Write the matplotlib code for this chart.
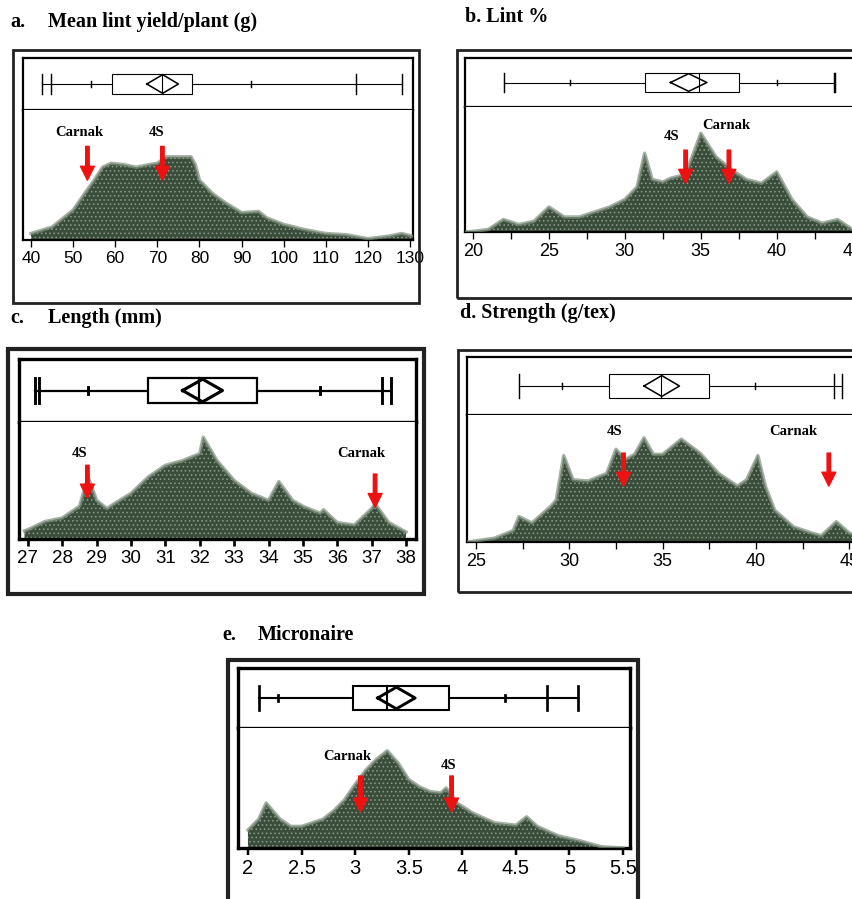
import matplotlib.pyplot as plt
import matplotlib.patches as mpatches
from matplotlib.ticker import MultipleLocator

W, H = 853, 899

plt.rcParams['hatch.linewidth'] = 0.6

# ---- data ----
# a. Mean lint yield/plant (g)
a_x = [40, 45, 50, 53, 55, 57, 59, 62, 65, 68, 70, 72, 75, 78, 79, 80, 83, 86, 90,
       94, 96, 100, 105, 110, 115, 120, 125, 128, 130.5]
a_y = [0.05, 0.10, 0.23, 0.37, 0.46, 0.56, 0.59, 0.58, 0.56, 0.58, 0.59, 0.64, 0.64,
       0.64, 0.58, 0.46, 0.36, 0.29, 0.21, 0.22, 0.17, 0.12, 0.08, 0.05, 0.04, 0.01,
       0.03, 0.05, 0.03]
a_box = [59.2, 71.2, 78.2]          # q1, median, q3
a_whisk = [42.6, 128.1]
a_mean, a_ci = 71.25, 3.75
a_marks = [44.8, 54.3, 92.2, 117.2]
a_mark_size = ['mid', 'small', 'small', 'mid']
a_arrows = {'Carnak': 53.4, '4S': 71.2}

# b. Lint %
b_x = [19.6, 20, 21, 22, 23, 24, 25, 26, 27, 28, 29, 30, 30.8, 31.3, 31.8, 32.5, 33, 34,
       35, 36, 37, 38, 39, 40, 41, 42, 43, 44, 45, 46]
b_y = [0.0, 0.005, 0.02, 0.10, 0.06, 0.085, 0.20, 0.12, 0.12, 0.16, 0.20, 0.26, 0.36,
       0.63, 0.42, 0.40, 0.43, 0.46, 0.79, 0.60, 0.50, 0.42, 0.39, 0.48, 0.26, 0.12,
       0.07, 0.10, 0.02, 0.0]
b_box = [31.3, 34.87, 37.5]
b_whisk = [22.05, 43.85]
b_mean, b_ci = 34.2, 1.2
b_marks = [26.4, 40.0, 43.75]
b_mark_size = ['small', 'small', 'mid']
b_arrows = {'4S': 34.0, 'Carnak': 36.85}

# c. Length (mm)
c_x = [26.9, 27, 27.5, 28, 28.5, 28.75, 29, 29.3, 29.5, 30, 30.5, 31, 31.5, 32, 32.1,
       32.5, 33, 33.5, 34, 34.3, 34.7, 35, 35.5, 35.6, 36, 36.5, 37, 37.1, 37.5, 38]
c_y = [0.07, 0.08, 0.15, 0.18, 0.28, 0.53, 0.33, 0.26, 0.30, 0.39, 0.53, 0.63, 0.67,
       0.73, 0.87, 0.67, 0.50, 0.39, 0.33, 0.49, 0.33, 0.28, 0.22, 0.25, 0.14, 0.12,
       0.26, 0.30, 0.14, 0.06]
c_box = [30.5, 31.98, 33.65]
c_whisk = [27.2, 37.55]
c_mean, c_ci = 32.08, 0.58
c_marks = [27.32, 28.75, 35.5, 37.3]
c_mark_size = ['mid', 'small', 'small', 'mid']
c_arrows = {'4S': 28.73, 'Carnak': 37.1}

# d. Strength (g/tex)
d_x = [24.6, 25, 26, 27, 27.3, 28, 29, 29.3, 29.7, 30.2, 31, 32, 32.5, 33, 33.5, 34,
       34.5, 35, 36, 37, 38, 39, 39.5, 40.1, 40.5, 41, 42, 43, 43.5, 44.3, 45, 46]
d_y = [0.0, 0.01, 0.03, 0.09, 0.20, 0.15, 0.28, 0.33, 0.68, 0.49, 0.48, 0.54, 0.73,
       0.65, 0.69, 0.82, 0.69, 0.69, 0.81, 0.70, 0.54, 0.44, 0.49, 0.68, 0.44, 0.25,
       0.12, 0.07, 0.05, 0.16, 0.07, 0.03]
d_box = [32.1, 34.9, 37.5]
d_whisk = [27.3, 44.6]
d_mean, d_ci = 34.95, 0.95
d_marks = [29.6, 39.95, 44.2]
d_mark_size = ['small', 'small', 'mid']
d_arrows = {'4S': 32.9, 'Carnak': 43.9}

# e. Micronaire
e_x = [2.0, 2.1, 2.17, 2.3, 2.4, 2.5, 2.7, 2.8, 2.9, 3.0, 3.1, 3.2, 3.3, 3.4, 3.5,
       3.6, 3.7, 3.8, 3.85, 3.95, 4.1, 4.3, 4.5, 4.6, 4.7, 4.9, 5.1, 5.3, 5.5]
e_y = [0.15, 0.24, 0.375, 0.24, 0.18, 0.18, 0.24, 0.31, 0.40, 0.53, 0.65, 0.74, 0.81,
       0.71, 0.57, 0.51, 0.47, 0.46, 0.50, 0.375, 0.29, 0.21, 0.19, 0.26, 0.18, 0.10,
       0.06, 0.01, 0.0]
e_box = [2.98, 3.3, 3.88]
e_whisk = [2.1, 5.08]
e_mean, e_ci = 3.385, 0.175
e_marks = [2.28, 4.4, 4.79]
e_mark_size = ['small', 'small', 'mid']
e_arrows = {'Carnak': 3.05, '4S': 3.90}

fig = plt.figure(figsize=(W / 100, H / 100), dpi=100)

serif = 'Liberation Serif'
sans = 'Liberation Sans'
green = '#3a4d3a'
speck = '#8c9c8c'


def fig_rect(x0, y0, x1, y1):
    return [x0 / W, 1 - y1 / H, (x1 - x0) / W, (y1 - y0) / H]


def panel(outer, inner, xlim, xs, ys, box, whisk, mean, ci, marks, sizes,
          arrows, label_pos, major, minor, lw, frame_lw, tick_fs, fmt):
    # outer frame
    x0, y0, x1, y1 = outer
    fig.patches.append(mpatches.Rectangle((x0 / W, 1 - y1 / H), (x1 - x0) / W,
                                          (y1 - y0) / H, transform=fig.transFigure,
                                          fill=False, lw=frame_lw, ec='#222222'))
    left, right, top, div, bot = inner

    # box plot strip
    bx = fig.add_axes(fig_rect(left, top, right, div))
    bx.set_xlim(xlim)
    bx.set_ylim(0, 1)
    bx.set_xticks([])
    bx.set_yticks([])
    for s in bx.spines.values():
        s.set_linewidth(frame_lw * 0.8)
    bx.plot(whisk, [0.5, 0.5], color='black', lw=lw)
    for w in whisk:
        bx.plot([w, w], [0.3, 0.7], color='black', lw=lw * 1.3)
    half = {'small': 0.05, 'mid': 0.2}
    for m, s in zip(marks, sizes):
        bx.plot([m, m], [0.5 - half[s], 0.5 + half[s]], color='black', lw=lw * 1.3)
    q1, med, q3 = box
    bx.add_patch(mpatches.Rectangle((q1, 0.3), q3 - q1, 0.4, fill=True, fc='white',
                                    ec='black', lw=lw, zorder=3))
    bx.plot([med, med], [0.3, 0.7], color='black', lw=lw, zorder=4)
    bx.plot([mean - ci, mean, mean + ci, mean, mean - ci],
            [0.5, 0.68, 0.5, 0.32, 0.5], color='black', lw=lw * 1.4, zorder=4)

    # density strip
    ax = fig.add_axes(fig_rect(left, div, right, bot))
    ax.set_xlim(xlim)
    ax.set_ylim(0, 1)
    ax.fill_between(xs, ys, 0, facecolor=green, edgecolor=speck, hatch='....',
                    linewidth=0, zorder=2)
    ax.plot(xs, ys, color='#7f907f', lw=2.5, alpha=0.7, zorder=3)
    ax.set_yticks([])
    ax.spines['top'].set_visible(False)
    for s in ['left', 'right', 'bottom']:
        ax.spines[s].set_linewidth(frame_lw * 0.8)
    ax.xaxis.set_major_locator(MultipleLocator(major))
    if minor:
        ax.xaxis.set_minor_locator(MultipleLocator(minor))
    ax.tick_params(axis='x', which='both', direction='out', length=5,
                   width=lw * 1.2, labelsize=tick_fs, pad=3)
    ax.xaxis.set_major_formatter(fmt)
    for lab in ax.get_xticklabels():
        lab.set_fontfamily(sans)

    for name, xv in arrows.items():
        ytop, ybot, tx, ty = label_pos[name]
        ax.annotate('', xy=(xv, ybot), xytext=(xv, ytop),
                    arrowprops=dict(color='#ee1111', width=2.5, headwidth=10,
                                    headlength=10, shrink=0), zorder=5)
        ax.text(tx, ty, name, ha='center', va='center', fontsize=10.5,
                fontweight='bold', family=serif, zorder=6)
    return ax


def num(v, pos):
    return f'{v:g}'


panel((13, 50, 419, 303), (23, 413, 58, 110, 240), (38.1, 130.7), a_x, a_y,
      a_box, a_whisk, a_mean, a_ci, a_marks, a_mark_size, a_arrows,
      {'Carnak': (0.72, 0.46, 51.5, 0.83), '4S': (0.72, 0.46, 69.8, 0.83)},
      10, None, 0.8, 2.0, 12.5, num)

panel((457, 50, 900, 298), (465, 880, 58, 107, 232), (19.47, 46.8), b_x, b_y,
      b_box, b_whisk, b_mean, b_ci, b_marks, b_mark_size, b_arrows,
      {'4S': (0.655, 0.39, 33.1, 0.76), 'Carnak': (0.655, 0.39, 36.7, 0.85)},
      5, 2.5, 0.8, 2.0, 13, num)

panel((8, 349, 424, 594), (19, 416, 359, 422, 539), (26.74, 38.29), c_x, c_y,
      c_box, c_whisk, c_mean, c_ci, c_marks, c_mark_size, c_arrows,
      {'4S': (0.63, 0.35, 28.5, 0.73), 'Carnak': (0.555, 0.27, 36.7, 0.73)},
      1, None, 1.6, 3.0, 13.5, num)

panel((458, 350, 900, 592), (467, 880, 357, 415, 542), (24.52, 46.64), d_x, d_y,
      d_box, d_whisk, d_mean, d_ci, d_marks, d_mark_size, d_arrows,
      {'4S': (0.70, 0.44, 32.4, 0.87), 'Carnak': (0.70, 0.44, 42.0, 0.87)},
      5, 2.5, 0.8, 2.0, 13, num)

panel((228, 660, 638, 950), (238, 630, 668, 728, 848), (1.907, 5.565), e_x, e_y,
      e_box, e_whisk, e_mean, e_ci, e_marks, e_mark_size, e_arrows,
      {'Carnak': (0.60, 0.30, 2.93, 0.76), '4S': (0.60, 0.30, 3.87, 0.69)},
      0.5, None, 1.5, 3.0, 14.5, num)

# panel titles
titles = [(10, 22, 'a.'), (48, 22, 'Mean lint yield/plant (g)'),
          (465, 17, 'b. Lint %'),
          (10, 318, 'c.'), (48, 318, 'Length (mm)'),
          (460, 313, 'd. Strength (g/tex)'),
          (222, 635, 'e.'), (258, 635, 'Micronaire')]
for tx, ty, t in titles:
    fig.text(tx / W, 1 - ty / H, t, ha='left', va='center', fontsize=14.5,
             fontweight='bold', family=serif)

fig.savefig('out.png', dpi=100)
